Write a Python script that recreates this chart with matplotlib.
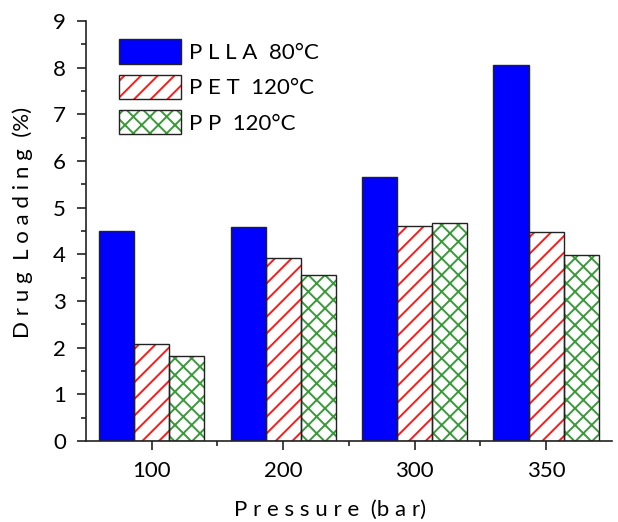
import matplotlib
matplotlib.use("Agg")
import matplotlib.pyplot as plt
import numpy as np
from matplotlib.legend_handler import HandlerTuple

pressures = ["100", "200", "300", "350"]
plla_80 = [4.5, 4.58, 5.66, 8.06]
pet_120 = [2.08, 3.93, 4.6, 4.48]
pp_120 = [1.82, 3.56, 4.68, 3.98]

plt.rcParams["font.family"] = ["Lato", "DejaVu Sans"]
plt.rcParams["hatch.linewidth"] = 1.4

fig = plt.figure(figsize=(6.18, 5.22), dpi=100)
ax = fig.add_axes([0.139, 0.155, 0.851, 0.805])

x = np.arange(len(pressures))
w = 0.8 / 3
edge = "#222222"

series = [
    (plla_80, "#0000ff", None, "P L L A  80°C"),
    (pet_120, "white", "//", "P E T  120°C"),
    (pp_120, "white", "xx", "P P  120°C"),
]
hatch_colors = [None, "#ff1a1a", "#3a9a3a"]

handles, labels = [], []
for i, (vals, fc, hatch, lab) in enumerate(series):
    xs = x + (i - 1) * w
    if hatch:
        # hatch colour comes from edgecolor, so draw hatch and outline separately
        h1 = ax.bar(xs, vals, w, color=fc, edgecolor=hatch_colors[i],
                    hatch=hatch, linewidth=0, zorder=2)
        h2 = ax.bar(xs, vals, w, facecolor="none", edgecolor=edge,
                    linewidth=1.0, zorder=3)
        handles.append((h1[0], h2[0]))
    else:
        h = ax.bar(xs, vals, w, color=fc, edgecolor=edge, linewidth=1.0, zorder=3)
        handles.append(h[0])
    labels.append(lab)

ax.set_xlim(-0.5, 3.5)
ax.set_ylim(0, 9)
ax.set_xticks(x)
ax.set_xticklabels(pressures)
ax.set_xticks(x[:-1] + 0.5, minor=True)
ax.set_yticks(range(10))
ax.set_yticks(np.arange(0.5, 9, 1), minor=True)

for s in ["top", "right"]:
    ax.spines[s].set_visible(False)
for s in ["left", "bottom"]:
    ax.spines[s].set_linewidth(1.2)
    ax.spines[s].set_color("#222222")
    ax.spines[s].set_zorder(4)

ax.tick_params(which="major", direction="out", length=6.5, width=1.2,
               labelsize=16, pad=8, color="#222222")
ax.tick_params(which="minor", direction="out", length=3.5, width=1.2,
               color="#222222")

ax.set_xlabel("P r e s s u r e  (b a r)", fontsize=16)
ax.set_ylabel("D r u g  L o a d i n g  (%)", fontsize=16)
ax.xaxis.set_label_coords(0.464, -0.14)
ax.yaxis.set_label_coords(-0.10, 0.52)

ax.legend(handles, labels, handler_map={tuple: HandlerTuple(ndivide=1, pad=0)},
          loc="upper left", bbox_to_anchor=(0.063, 0.956), frameon=False,
          fontsize=16, handlelength=2.8, handleheight=1.3,
          labelspacing=0.5, handletextpad=0.35, borderaxespad=0,
          borderpad=0)

fig.savefig("out.png", dpi=100)
